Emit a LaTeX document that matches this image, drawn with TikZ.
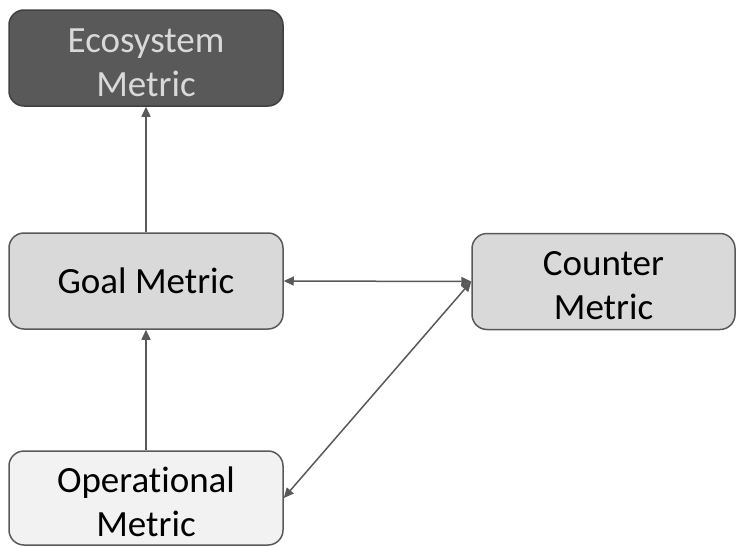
\documentclass[tikz,border=0pt]{standalone}
\usepackage{fontspec}
\setmainfont{Carlito}[Ligatures=NoCommon]
\usetikzlibrary{arrows.meta}
\definecolor{edgegray}{HTML}{595959}
\definecolor{darkfill}{HTML}{595959}
\definecolor{darkborder}{HTML}{404040}
\definecolor{midfill}{HTML}{D9D9D9}
\definecolor{lightfill}{HTML}{F2F2F2}
\definecolor{lighttext}{HTML}{D9D9D9}
% taller first line, so two-line labels sit a little low in their boxes
\newcommand{\firstline}{\rule{0pt}{33pt}}
\tikzset{
  metricbox/.style={draw=edgegray, line width=1.5pt, rounded corners=15pt,
    minimum width=274pt, minimum height=96pt, align=center,
    font=\fontsize{37}{44}\selectfont, inner sep=0pt},
  link/.style={draw=edgegray, line width=1.5pt,
    arrows={-Triangle[length=10pt,width=9pt]}},
  twoway/.style={link, arrows={Triangle[length=10pt,width=9pt]-Triangle[length=10pt,width=9pt]}}
}
\begin{document}
\begin{tikzpicture}[x=1pt,y=-1pt]
  \useasboundingbox (0,0) rectangle (736,546);
  \node[metricbox, fill=darkfill, draw=darkborder, text=lighttext] (eco) at (146,58) {\firstline Ecosystem\\Metric};
  \node[metricbox, fill=midfill] (goal) at (146,281) {Goal Metric};
  \node[metricbox, fill=midfill, minimum width=263pt] (counter) at (603.5,281.5) {\firstline Counter\\Metric};
  \node[metricbox, fill=lightfill, minimum height=94pt] (op) at (146,498) {\firstline Operational\\Metric};
  \draw[link] (goal.north) -- (eco.south);
  \draw[link] (op.north) -- (goal.south);
  \draw[twoway] (goal.east) -- (counter.west);
  \draw[twoway] (op.east) -- (counter.west);
\end{tikzpicture}
\end{document}
